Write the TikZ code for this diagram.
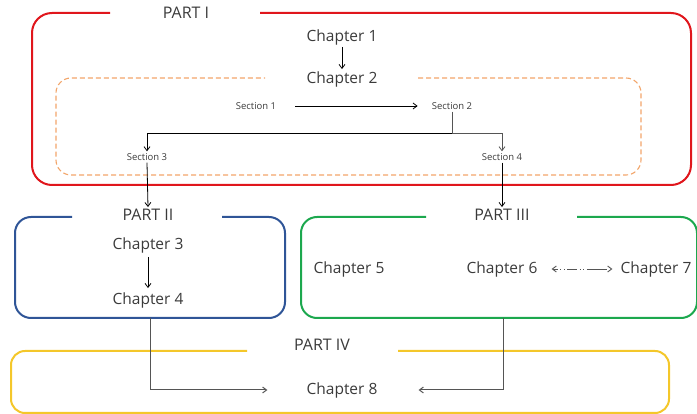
\documentclass[tikz,border=0pt]{standalone}
\usepackage{fontspec}
\setmainfont{Open Sans}
\usetikzlibrary{arrows.meta}
\definecolor{partred}{HTML}{E0161C}
\definecolor{partorange}{HTML}{F2A56A}
\definecolor{partblue}{HTML}{2F5597}
\definecolor{partgreen}{HTML}{1CA84E}
\definecolor{partyellow}{HTML}{F4C72A}
\definecolor{txt}{HTML}{3A3A3A}
\definecolor{conn}{HTML}{555555}
\tikzset{
  chap/.style={font=\fontsize{15.5}{18}\selectfont, text=txt, inner sep=2pt},
  sect/.style={font=\fontsize{9.5}{11}\selectfont, text=txt, inner sep=2pt},
  parttitle/.style={font=\fontsize{16}{18}\selectfont, text=txt, inner sep=2pt},
  frame/.style={line width=2pt, rounded corners=20pt},
  conarrow/.style={-{Straight Barb[length=4pt,width=6pt]}, line width=0.8pt, draw=black},
  lowarrow/.style={-{Straight Barb[length=4pt,width=6pt]}, line width=1pt, draw=conn},
}
\begin{document}
\begin{tikzpicture}[x=1pt,y=-1pt]
\useasboundingbox (0,0) rectangle (697,414);
% frames
\draw[frame, draw=partred] (260,13) -- (691,13) -- (691,185) -- (32,185) -- (32,13) -- (110,13);
\draw[line width=1.1pt, draw=partorange, dashed, dash pattern=on 5pt off 3pt, rounded corners=15pt]
  (418,78) -- (641,78) -- (641,175) -- (56,175) -- (56,78) -- (265,78);
\draw[frame, draw=partblue, rounded corners=16pt] (222,217) -- (285,217) -- (285,318) -- (15,318) -- (15,217) -- (72,217);
\draw[frame, draw=partgreen, rounded corners=16pt] (577,217) -- (697,217) -- (697,318) -- (301,318) -- (301,217) -- (426,217);
\draw[frame, draw=partyellow, rounded corners=14pt] (398,351) -- (669,351) -- (669,413) -- (11,413) -- (11,351) -- (247,351);
% titles
\node[parttitle] (p1) at (186,13) {PART I};
\node[parttitle] (p2) at (148,215) {PART II};
\node[parttitle] (p3) at (502,215) {PART III};
\node[parttitle] (p4) at (322,345) {PART IV};
% part I content
\node[chap] (c1) at (342,37) {Chapter 1};
\node[chap] (c2) at (342,79) {Chapter 2};
\node[sect] (s1) at (256,106) {Section 1};
\node[sect] (s2) at (452,106) {Section 2};
\node[sect] (s3) at (147,157) {Section 3};
\node[sect] (s4) at (502,157) {Section 4};
\coordinate (j) at (452,133);
\draw[conarrow] (c1) -- (c2);
\draw[conarrow, shorten <=17pt, shorten >=12pt] (s1) -- (s2);
\draw[line width=0.9pt, draw=conn] (s2.south) -- (j);
\draw[conarrow] (j) -| (s3.north);
\draw[conarrow, draw=conn] (j) -| (s4.north);
\draw[conarrow] (s3.south) -- (p2.north);
\draw[conarrow] (s4.south) -- (p3.north);
% part II
\node[chap] (c3) at (148,245) {Chapter 3};
\node[chap] (c4) at (148,300) {Chapter 4};
\draw[conarrow, shorten <=2pt, shorten >=2pt] (c3) -- (c4);
% part III
\node[chap] (c5) at (349,269) {Chapter 5};
\node[chap] (c6) at (502,269) {Chapter 6};
\node[chap] (c7) at (656,269) {Chapter 7};
\draw[{Straight Barb[length=4pt,width=6pt]}-{Straight Barb[length=4pt,width=6pt]}, line width=0.9pt, draw=conn,
  dash pattern=on 5pt off 2.5pt on 1pt off 2.5pt on 1pt off 2.5pt on 10pt off 2.5pt on 1pt off 2.5pt on 1pt off 2.5pt on 20pt,
  shorten <=12pt, shorten >=6pt] (c6.east) -- (c7.west);
% part IV
\node[chap] (c8) at (342,390) {Chapter 8};
\coordinate (b2) at (150,318);
\coordinate (b3) at (503,318);
\draw[lowarrow, shorten >=37pt] (b2) |- (c8.west);
\draw[lowarrow, shorten >=39pt] (b3) |- (c8.east);
\end{tikzpicture}
\end{document}
